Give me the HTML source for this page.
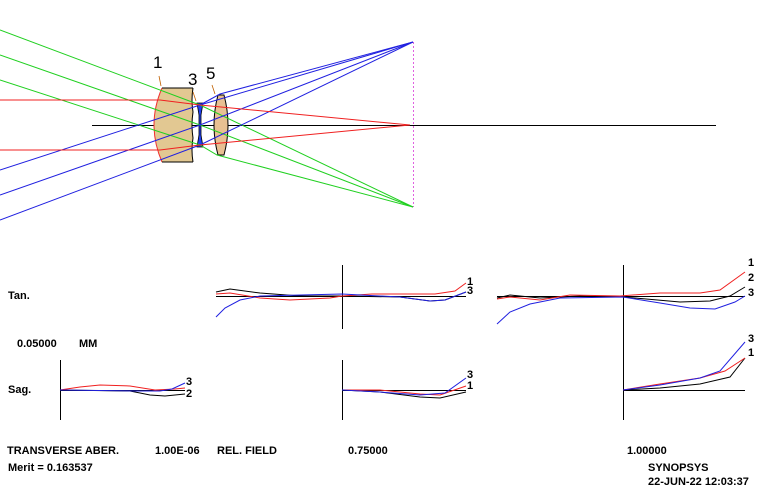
<!DOCTYPE html>
<html><head><style>
html,body{margin:0;padding:0;background:#fff;width:776px;height:498px;overflow:hidden}
svg{display:block}
text{font-family:"Liberation Sans",Arial,sans-serif}
.t{font-size:11px;font-weight:bold;fill:#000}
.n{font-size:11px;font-weight:bold;fill:#000}
</style></head><body>
<svg width="776" height="498" viewBox="0 0 776 498" xmlns="http://www.w3.org/2000/svg">
<g fill="none" stroke-width="1">
<!-- axis and image plane -->
<line x1="92" y1="125.5" x2="716" y2="125.5" stroke="#000"/>
<line x1="413.5" y1="42" x2="413.5" y2="207" stroke="#e060e0" stroke-dasharray="2,2"/>
</g>
<!-- lens 1 -->
<path d="M162,88 L193,88 Q191,100 193,112 Q191,125 193,138 Q191,150 193,162 L162,162 Q146,125 162,88 Z" fill="#e2c892" stroke="none"/>
<path d="M162,88 Q146,125 162,162" fill="none" stroke="#f03030"/>
<path d="M162,88 L193,88 M162,162 L193,162" stroke="#000" fill="none"/>
<path d="M193,88 Q191,100 193,112 Q191,125 193,138 Q191,150 193,162" stroke="#000" fill="none"/>
<!-- element 3 -->
<path d="M197,103 L203,103 L201,115 L201,135 L203,147 L197,147 L199,135 L199,115 Z" fill="#2040f0" stroke="#000" stroke-width="0.8"/>
<!-- lens 5 -->
<path d="M218,95 L224,95 Q232,125 224,155 L218,155 Q210,125 218,95 Z" fill="#e8c092" stroke="#000"/>
<!-- leaders -->
<path d="M159,76 L161,86 M193,92 L196,101 M212,85 L215,94" stroke="#c06000" stroke-width="0.8" fill="none"/>
<text x="153" y="68" font-size="17" fill="#000">1</text>
<text x="188" y="85" font-size="17" fill="#000">3</text>
<text x="206" y="79" font-size="17" fill="#000">5</text>
<!-- rays -->
<g fill="none" stroke-width="1">
<polyline stroke="#20d020" points="0,30 200,105 413,207"/>
<polyline stroke="#20d020" points="0,55 200,125 413,207"/>
<polyline stroke="#20d020" points="0,80 200,145 217,155 413,207"/>
<polyline stroke="#2020e0" points="0,170 200,105 413,42"/>
<polyline stroke="#2020e0" points="0,195 200,125 413,42"/>
<polyline stroke="#2020e0" points="0,220 200,145 413,42"/>
<polyline stroke="#2020e0" points="200,105 220,94 413,42"/>
<polyline stroke="#f02020" points="0,100 160,100 200,105 410,125"/>
<polyline stroke="#f02020" points="0,150 160,150 200,145 410,125"/>
</g>
<!-- plots axes -->
<g stroke="#000" fill="none">
<line x1="216" y1="296.5" x2="466" y2="296.5"/>
<line x1="342.5" y1="265" x2="342.5" y2="329"/>
<line x1="60" y1="390.5" x2="185" y2="390.5"/>
<line x1="60.5" y1="360" x2="60.5" y2="420"/>
<line x1="342" y1="390.5" x2="466" y2="390.5"/>
<line x1="342.5" y1="360" x2="342.5" y2="420"/>
<line x1="497" y1="296.5" x2="745" y2="296.5"/>
<line x1="623.5" y1="265" x2="623.5" y2="338"/>
<line x1="623" y1="390.5" x2="745" y2="390.5"/>
<line x1="623.5" y1="330" x2="623.5" y2="420"/>
</g>
<g fill="none" stroke-width="1">
<!-- middle tan -->
<polyline stroke="#000" points="216,292 230,289 260,293 300,296 342,296 400,297 430,301 445,300 466,292"/>
<polyline stroke="#f02020" points="216,294 230,293 260,298 290,300 330,298 342,296 372,294 435,294 455,291 466,283"/>
<polyline stroke="#2020e0" points="216,317 225,308 240,300 260,296 342,294 400,297 430,301 445,300 466,292"/>
<!-- left sag -->
<polyline stroke="#000" points="60,390 130,391 150,395 165,396 185,394"/>
<polyline stroke="#f02020" points="60,390 80,387 100,385 130,386 155,390 175,389 185,388"/>
<polyline stroke="#2020e0" points="60,390 140,391 160,391 172,389 185,383"/>
<!-- middle sag -->
<polyline stroke="#000" points="342,390 380,392 420,397 440,398 466,392"/>
<polyline stroke="#f02020" points="342,390 380,390 420,394 440,395 466,386"/>
<polyline stroke="#2020e0" points="342,390 380,392 420,395 445,393 466,378"/>
<!-- right tan -->
<polyline stroke="#000" points="497,298 510,295 540,298 580,296 623,297 680,302 710,301 730,296 745,287"/>
<polyline stroke="#f02020" points="497,299 510,297 540,300 570,295 620,296 660,293 700,293 720,290 745,272"/>
<polyline stroke="#2020e0" points="497,324 510,312 530,304 560,298 623,297 660,303 690,308 715,309 735,302 745,296"/>
<!-- right sag -->
<polyline stroke="#000" points="623,390 660,388 700,384 730,377 745,358"/>
<polyline stroke="#f02020" points="623,390 660,384 700,378 725,371 745,358"/>
<polyline stroke="#2020e0" points="623,390 660,385 700,378 720,371 745,342"/>
</g>
<!-- curve labels -->
<g class="n">
<text class="n" x="467" y="285">1</text>
<text class="n" x="467" y="294">3</text>
<text class="n" x="186" y="385">3</text>
<text class="n" x="186" y="397">2</text>
<text class="n" x="467" y="378">3</text>
<text class="n" x="467" y="389">1</text>
<text class="n" x="748" y="266">1</text>
<text class="n" x="748" y="281">2</text>
<text class="n" x="748" y="296">3</text>
<text class="n" x="748" y="342">3</text>
<text class="n" x="748" y="356">1</text>
</g>
<!-- texts -->
<text class="t" x="8" y="299">Tan.</text>
<text class="t" x="17" y="347">0.05000</text>
<text class="t" x="79" y="347">MM</text>
<text class="t" x="8" y="393">Sag.</text>
<text class="t" x="7" y="454">TRANSVERSE ABER.</text>
<text class="t" x="155" y="454">1.00E-06</text>
<text class="t" x="217" y="454">REL. FIELD</text>
<text class="t" x="348" y="454">0.75000</text>
<text class="t" x="627" y="454">1.00000</text>
<text class="t" x="8" y="471">Merit = 0.163537</text>
<text class="t" x="648" y="471">SYNOPSYS</text>
<text class="t" x="648" y="485">22-JUN-22  12:03:37</text>
</svg>
</body></html>
